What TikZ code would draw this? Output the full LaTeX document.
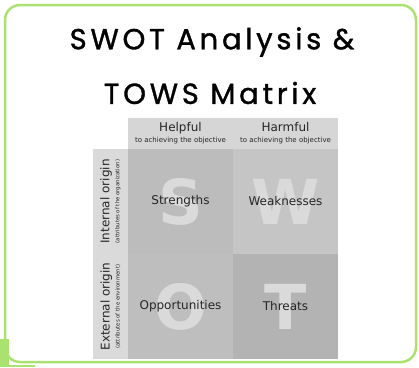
\documentclass[tikz,border=0pt]{standalone}
\usepackage{fontspec}
\setmainfont{DejaVu Sans}
\newfontfamily\titlefont[LetterSpace=13, FakeBold=1.2]{Poppins}
\usetikzlibrary{positioning}

\definecolor{framegreen}{RGB}{170,226,112}
\definecolor{headgrey}{RGB}{214,214,214}
\definecolor{sidegrey}{RGB}{218,218,218}
\definecolor{sgrey}{RGB}{188,188,188}
\definecolor{wgrey}{RGB}{197,197,197}
\definecolor{ogrey}{RGB}{190,190,190}
\definecolor{tgrey}{RGB}{179,179,179}
\definecolor{lettergrey}{RGB}{218,218,218}

\tikzset{
  cell/.style={minimum width=105pt, minimum height=105pt, inner sep=0pt, outer sep=0pt},
  headcell/.style={fill=headgrey, minimum width=105pt, minimum height=31pt, inner sep=0pt, outer sep=0pt, align=center, text=black!85},
  sidecell/.style={fill=sidegrey, minimum width=35pt, minimum height=105pt, inner sep=0pt, outer sep=0pt},
  sidetext/.style={rotate=90, inner sep=0pt, align=center, text=black!85},
  bigletter/.style={font=\fontsize{62}{62}\selectfont\bfseries, text=lettergrey, inner sep=0pt},
  celltext/.style={font=\fontsize{12}{14}\selectfont, text=black!85, inner sep=0pt},
  titletext/.style={font=\titlefont\fontsize{29}{31}\selectfont, inner sep=0pt},
}
\newcommand{\bigtxt}{\fontsize{12}{13}\selectfont}
\newcommand{\headsmall}{\fontsize{7}{8}\selectfont}
\newcommand{\sidesmall}{\fontsize{5.4}{6}\selectfont}

\begin{document}
\begin{tikzpicture}[x=1pt, y=-1pt]
    \useasboundingbox (0,0) rectangle (419,367);
    \draw [framegreen, line width=2.5pt, rounded corners=15pt] (5,5) rectangle (416,362);
    \fill [framegreen] (0,339) rectangle (9,367);
    \draw [framegreen, line width=1.5pt] (0,366) -- (35,366);

    \node [titletext] (title1) at (212,42) {SWOT Analysis \&};
    \node [titletext] (title2) at (210,93) {TOWS Matrix};

    \node [cell, fill=sgrey] (s) at (180.5,201.5) {};
    \node [cell, fill=wgrey, right=0pt of s] (w) {};
    \node [cell, fill=ogrey, below=0pt of s] (o) {};
    \node [cell, fill=tgrey, right=0pt of o] (t) {};

    \node [headcell, above=0pt of s] (helpful) {\bigtxt Helpful\\[-1pt]\headsmall to achieving the objective};
    \node [headcell, above=0pt of w] (harmful) {\bigtxt Harmful\\[-1pt]\headsmall to achieving the objective};
    \node [sidecell, left=0pt of s] (internal) {};
    \node [sidecell, left=0pt of o] (external) {};
    \node [sidetext] (internaltext) at (internal) {\bigtxt Internal origin\\[-2pt]\sidesmall (attributes of the organization)};
    \node [sidetext] (externaltext) at (external) {\bigtxt External origin\\[-2pt]\sidesmall (attributes of the environment)};

    \foreach \c/\l in {s/S, w/W, o/O, t/T}
      \node [bigletter] (\c letter) at (\c) {\l};

    \node [celltext] (strengths) at (s) {Strengths};
    \node [celltext] (weaknesses) at (w) {Weaknesses};
    \node [celltext] (opportunities) at (o) {Opportunities};
    \node [celltext] (threats) at (t) {Threats};
  \end{tikzpicture}
\end{document}
